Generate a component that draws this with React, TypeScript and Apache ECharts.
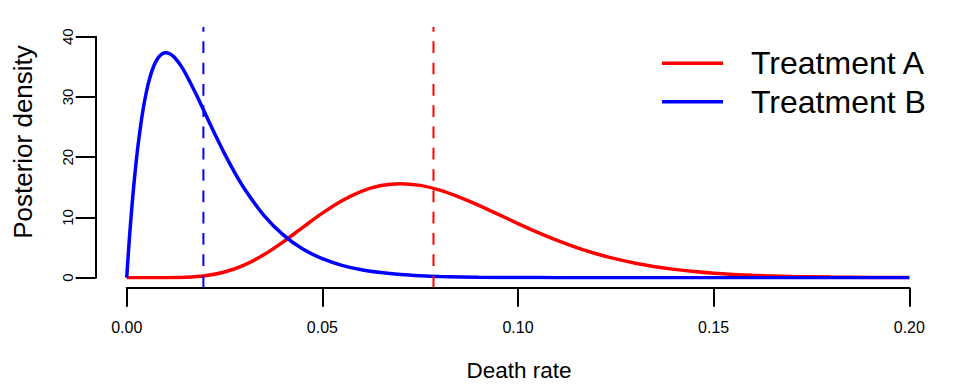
import React, { useEffect, useRef } from "react";
import * as echarts from "echarts";

// Death rate grid (x) and posterior density values
const xA = [0, 0.005, 0.01, 0.015, 0.02, 0.025, 0.03, 0.035, 0.04, 0.045, 0.05, 0.055, 0.06, 0.065, 0.07, 0.075, 0.08, 0.085, 0.09, 0.095, 0.1, 0.105, 0.11, 0.115, 0.12, 0.125, 0.13, 0.135, 0.14, 0.145, 0.15, 0.155, 0.16, 0.17, 0.18, 0.19, 0.2];
const densityA = [0, 0.0001, 0.0064, 0.068, 0.316, 0.937, 2.08, 3.79, 5.95, 8.35, 10.71, 12.78, 14.34, 15.29, 15.61, 15.32, 14.54, 13.39, 12.0, 10.5, 8.98, 7.52, 6.19, 5.0, 3.98, 3.12, 2.41, 1.83, 1.38, 1.03, 0.754, 0.548, 0.394, 0.198, 0.096, 0.045, 0.02];

const xB = [0, 0.0005, 0.001, 0.0015, 0.002, 0.0025, 0.003, 0.004, 0.005, 0.006, 0.007, 0.008, 0.009, 0.01, 0.011, 0.012, 0.013, 0.014, 0.015, 0.0175, 0.02, 0.0225, 0.025, 0.0275, 0.03, 0.035, 0.04, 0.045, 0.05, 0.055, 0.06, 0.065, 0.07, 0.075, 0.08, 0.09, 0.1, 0.11, 0.12, 0.14, 0.16, 0.2];
const densityB = [0, 4.81, 9.15, 13.06, 16.57, 19.71, 22.5, 27.17, 30.74, 33.4, 35.27, 36.48, 37.14, 37.34, 37.17, 36.69, 35.95, 35.03, 33.94, 30.77, 27.33, 23.89, 20.59, 17.57, 14.86, 10.39, 7.1, 4.76, 3.15, 2.05, 1.32, 0.846, 0.536, 0.337, 0.21, 0.08, 0.03, 0.011, 0.004, 0.0005, 0.0001, 0];

// Posterior means (dashed lines)
const meanA = 0.0784;
const meanB = 0.0196;

const seriesNames = ["Treatment A", "Treatment B"];
const xTicks = [0, 0.05, 0.1, 0.15, 0.2];
const yTicks = [0, 10, 20, 30, 40];

const Y_MIN = yTicks[0];
const Y_MAX = yTicks[yTicks.length - 1];
const Y_PAD = 1.6; // plot-region extension (4%)

const FONT = "Liberation Sans, Arial, Helvetica, sans-serif";

export default function App() {
  const ref = useRef<HTMLDivElement>(null);
  useEffect(() => {
    if (!ref.current) return;
    const chart = echarts.init(ref.current, undefined, { renderer: "svg" });
    const pairs = (xs: number[], ys: number[]) => xs.map((x, i) => [x, ys[i]]);
    chart.setOption({
      animation: false,
      backgroundColor: "#ffffff",
      textStyle: { fontFamily: FONT },
      grid: { left: 126.7, right: 50.7, top: 36.7, bottom: 106.3, containLabel: false },
      xAxis: {
        type: "value",
        min: xTicks[0],
        max: xTicks[xTicks.length - 1],
        interval: 0.05,
        offset: 10,
        splitLine: { show: false },
        axisLine: { show: true, onZero: false, lineStyle: { color: "#000", width: 2 } },
        axisTick: { show: true, length: 19, lineStyle: { color: "#000", width: 2 } },
        axisLabel: {
          color: "#000",
          fontSize: 16,
          fontFamily: FONT,
          margin: 32,
          formatter: (v: number) => v.toFixed(2),
        },
      },
      yAxis: {
        type: "value",
        min: Y_MIN,
        max: Y_MAX,
        interval: 10,
        offset: 31,
        splitLine: { show: false },
        axisLine: { show: true, onZero: false, lineStyle: { color: "#000", width: 2 } },
        axisTick: { show: true, length: 20, lineStyle: { color: "#000", width: 2 } },
        axisLabel: {
          color: "#000",
          fontSize: 15,
          fontFamily: FONT,
          rotate: 90,
          margin: 21,
        },
      },
      legend: {
        data: seriesNames,
        orient: "vertical",
        left: 662,
        top: 44,
        padding: 0,
        itemGap: 0,
        itemWidth: 61,
        itemHeight: 3.5,
        icon: "rect",
        textStyle: {
          fontSize: 32,
          fontFamily: FONT,
          color: "#000",
          lineHeight: 38.5,
          padding: [0, 0, 0, 23],
        },
      },
      graphic: [
        {
          type: "text",
          x: 519,
          y: 370,
          style: {
            text: "Death rate",
            fontSize: 22.5,
            fontFamily: FONT,
            fill: "#000",
            textAlign: "center",
            textVerticalAlign: "middle",
          },
        },
        {
          type: "text",
          x: 23,
          y: 142,
          rotation: Math.PI / 2,
          style: {
            text: "Posterior density",
            fontSize: 26,
            fontFamily: FONT,
            fill: "#000",
            textAlign: "center",
            textVerticalAlign: "middle",
          },
        },
      ],
      series: [
        {
          name: seriesNames[0],
          type: "line",
          data: pairs(xA, densityA),
          showSymbol: false,
          smooth: 0.3,
          itemStyle: { color: "#ff0000" },
          lineStyle: { color: "#ff0000", width: 3.5 },
        },
        {
          name: seriesNames[1],
          type: "line",
          data: pairs(xB, densityB),
          showSymbol: false,
          smooth: 0.3,
          itemStyle: { color: "#0000ff" },
          lineStyle: { color: "#0000ff", width: 3.5 },
        },
        {
          name: "meanB",
          type: "line",
          data: [[meanB, Y_MIN - Y_PAD], [meanB, Y_MAX + Y_PAD]],
          showSymbol: false,
          clip: false,
          silent: true,
          lineStyle: { color: "#0000ff", width: 2, type: [11.7, 9.6] },
        },
        {
          name: "meanA",
          type: "line",
          data: [[meanA, Y_MIN - Y_PAD], [meanA, Y_MAX + Y_PAD]],
          showSymbol: false,
          clip: false,
          silent: true,
          lineStyle: { color: "#ff0000", width: 2, type: [11.7, 9.6] },
        },
      ],
    });
    return () => chart.dispose();
  }, []);
  return <div ref={ref} style={{ width: 960, height: 384, position: "absolute", left: 0, top: 0 }} />;
}
